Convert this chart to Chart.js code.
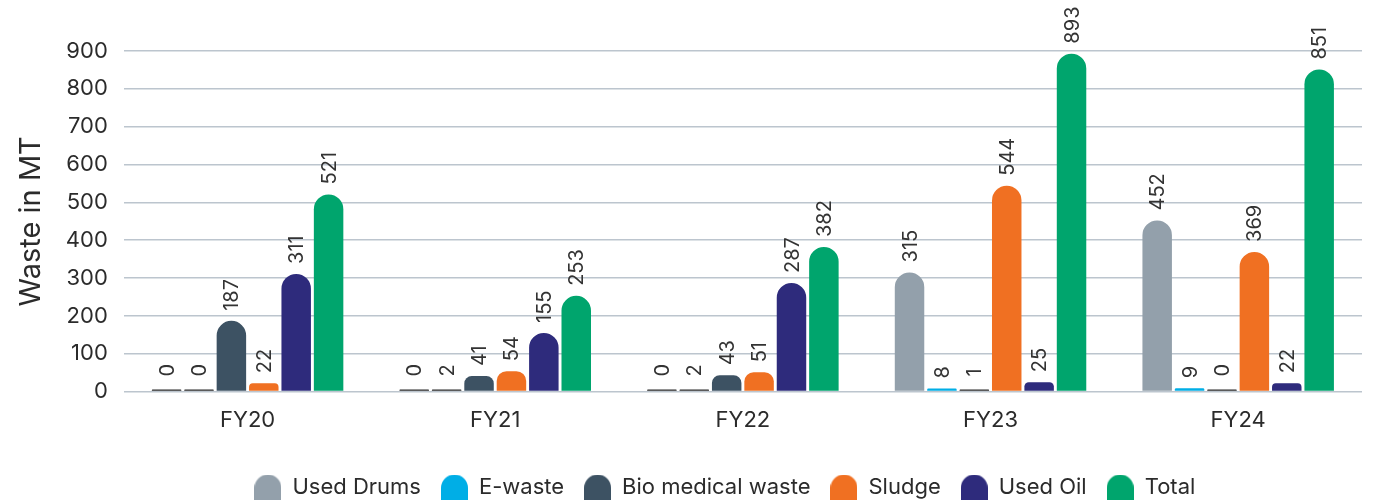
<!DOCTYPE html>
<html>
<head>
<meta charset="utf-8">
<script src="https://cdn.jsdelivr.net/npm/chart.js@4.4.1/dist/chart.umd.min.js"></script>
<style>
  html, body { margin: 0; padding: 0; background: #fff; }
  #wrap { width: 1382px; height: 502px; }
</style>
</head>
<body>
<div id="wrap"><canvas id="waste-chart"></canvas></div>
<script>
    'use strict';

    // chart data
    var years = ['FY20', 'FY21', 'FY22', 'FY23', 'FY24'];
    var usedDrums = [0, 0, 0, 315, 452];
    var eWaste = [0, 2, 2, 8, 9];
    var bioMedical = [187, 41, 43, 1, 0];
    var sludge = [22, 54, 51, 544, 369];
    var usedOil = [311, 155, 287, 25, 22];
    var total = [521, 253, 382, 893, 851];
    var yTicks = [0, 100, 200, 300, 400, 500, 600, 700, 800, 900];

    var textDark = '#2b2b2b',
        gridGray = '#bcc5ce',
        stubDark = '#262626';

    // legend marker shaped like the bar tops
    function marker(color) {
        var c = document.createElement('canvas');
        c.width = 27;
        c.height = 25;
        var g = c.getContext('2d');
        g.fillStyle = color;
        g.beginPath();
        g.moveTo(0, 25);
        g.lineTo(0, 13);
        g.arc(13.5, 13.5, 13.5, Math.PI, 0);
        g.lineTo(27, 25);
        g.closePath();
        g.fill();
        return c;
    }

    function barSet(label, data, color) {
        return {
            label: label,
            data: data,
            // near-zero values show up as a thin dark stub
            backgroundColor: function (c) {
                return c.raw !== undefined && c.raw < 3 ? stubDark : color;
            },
            minBarLength: 2,
            borderRadius: { topLeft: 20, topRight: 20 },
            borderSkipped: 'bottom',
            pointStyle: marker(color),
            categoryPercentage: 0.785,
            barPercentage: 0.91
        };
    }

    // value labels, rotated, sitting above each bar
    var valueLabels = {
        id: 'valueLabels',
        afterDatasetsDraw: function (chart) {
            var ctx = chart.ctx;
            ctx.save();
            ctx.font = '20px Inter';
            ctx.fillStyle = '#333';
            ctx.textAlign = 'left';
            ctx.textBaseline = 'middle';
            chart.data.datasets.forEach(function (ds, i) {
                var meta = chart.getDatasetMeta(i);
                meta.data.forEach(function (bar, j) {
                    var gap = ds.data[j] < 3 ? 13 : 10;
                    ctx.save();
                    ctx.translate(bar.x, bar.y - gap);
                    ctx.rotate(-Math.PI / 2);
                    ctx.fillText(String(ds.data[j]), 0, 1);
                    ctx.restore();
                });
            });
            ctx.restore();
        }
    };

    // nudge the legend a little left of the plot centre
    var legendShift = {
        id: 'legendShift',
        afterLayout: function (chart) {
            if (chart.legend) {
                chart.legend.left -= 18;
                chart.legend.right -= 18;
            }
        }
    };

    var ctx = document.getElementById('waste-chart').getContext('2d');
    var wasteChart = new Chart(ctx, {
        type: 'bar',
        data: {
            labels: years,
            datasets: [
                barSet('Used Drums', usedDrums, '#93a0ab'),
                barSet('E-waste', eWaste, '#00aee6'),
                barSet('Bio medical waste', bioMedical, '#3d5263'),
                barSet('Sludge', sludge, '#f07022'),
                barSet('Used Oil', usedOil, '#2e2b7c'),
                barSet('Total', total, '#00a56d')
            ]
        },
        plugins: [valueLabels, legendShift],
        options: {
            responsive: true,
            maintainAspectRatio: false,
            animation: false,
            layout: {
                padding: { top: 51, right: 20, left: 10, bottom: -6 }
            },
            plugins: {
                tooltip: { enabled: false },
                legend: {
                    position: 'bottom',
                    fullSize: false,
                    labels: {
                        usePointStyle: true,
                        pointStyleWidth: 27,
                        boxHeight: 25,
                        padding: 20,
                        color: textDark,
                        font: { family: 'Inter', size: 22 }
                    }
                }
            },
            scales: {
                x: {
                    grid: { display: false },
                    border: { display: false },
                    afterFit: function (axis) {
                        axis.height += 14;
                    },
                    ticks: {
                        color: textDark,
                        padding: 8,
                        font: { family: 'Inter', size: 22 }
                    }
                },
                y: {
                    min: 0,
                    max: yTicks[yTicks.length - 1],
                    afterBuildTicks: function (axis) {
                        axis.ticks = yTicks.map(function (v) { return { value: v }; });
                    },
                    grid: { color: gridGray, lineWidth: 1.5, drawTicks: false },
                    border: { display: false },
                    ticks: {
                        color: textDark,
                        padding: 16,
                        font: { family: 'Inter', size: 22 }
                    },
                    title: {
                        display: true,
                        text: 'Waste in MT',
                        color: textDark,
                        padding: { bottom: 1 },
                        font: { family: 'Inter', size: 29 }
                    }
                }
            }
        }
    });
</script>
</body>
</html>
